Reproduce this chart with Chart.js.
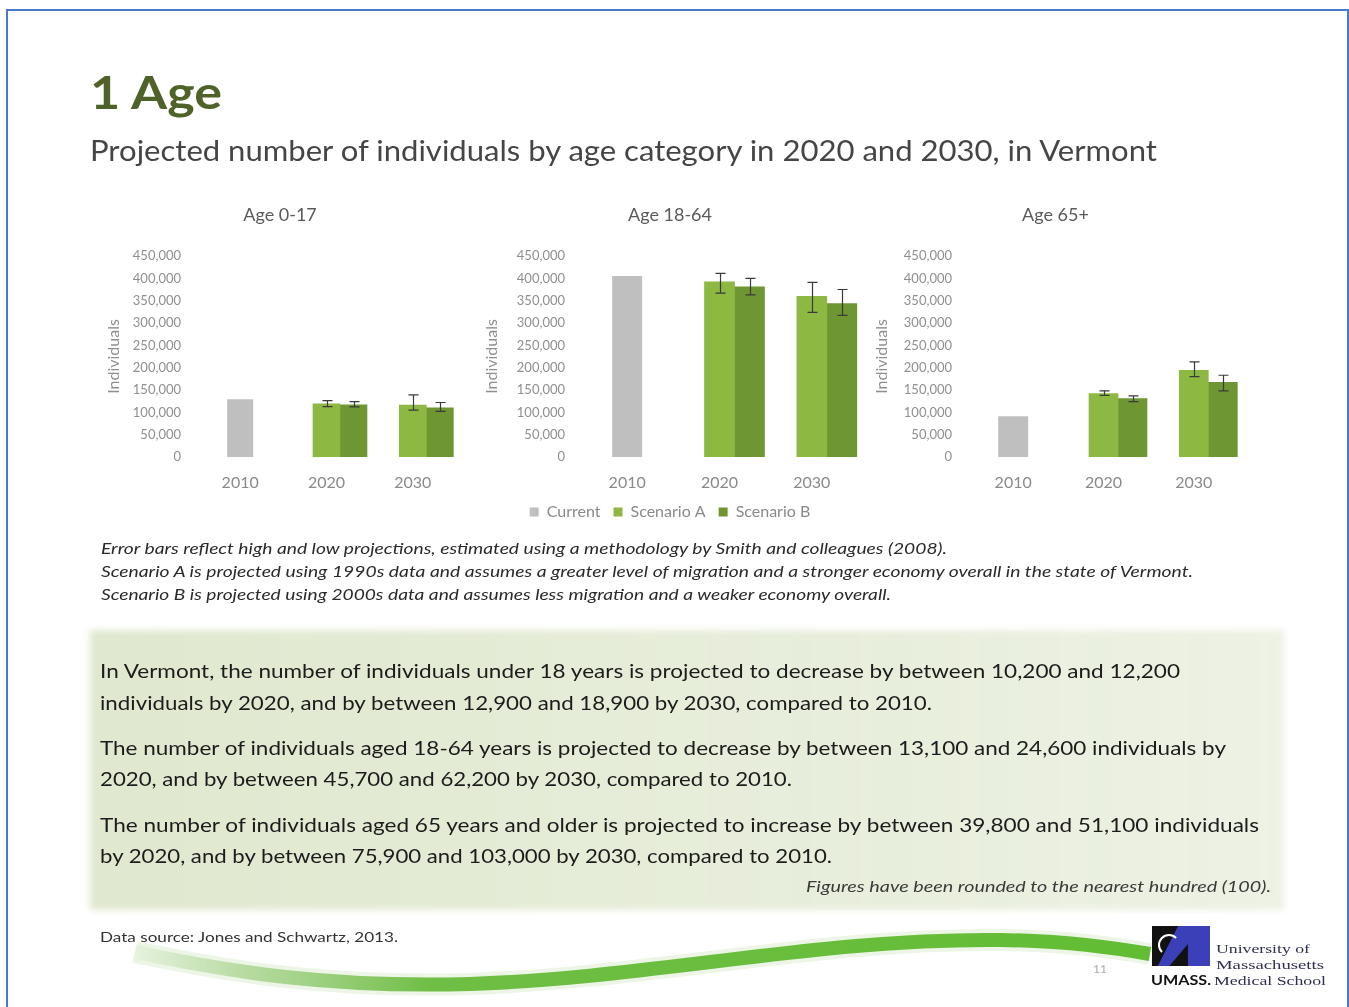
<!DOCTYPE html>
<html>
<head>
<meta charset="utf-8">
<script src="https://cdn.jsdelivr.net/npm/chart.js@4.4.0/dist/chart.umd.min.js"></script>
<style>
html,body{margin:0;padding:0;background:#fff;}
body{width:1349px;height:1007px;position:relative;overflow:hidden;font-family:Lato,"Open Sans",sans-serif;}
.frame{position:absolute;left:6px;top:9px;width:1339px;height:1030px;border:2px solid #4A78CF;}
.t{position:absolute;white-space:nowrap;line-height:1.2;transform-origin:0 50%;}
canvas{position:absolute;}
.box{position:absolute;left:90px;top:630px;width:1194px;height:280px;
 background:linear-gradient(90deg,rgba(222,231,204,0.95) 0%,rgba(229,236,215,0.95) 50%,rgba(235,240,225,0.9) 100%);
 filter:blur(3px);}
.para{color:#1c1c1c;font-size:20px;}
.cap{color:#2a2a2a;font-size:14.5px;font-style:italic;}
</style>
</head>
<body>
<div class="frame"></div>

<div class="t" data-w="132" style="left:90px;top:64px;font-size:46px;font-weight:700;color:#4F6228;">1 Age</div>
<div class="t" data-w="1067" style="left:90px;top:133px;font-size:29px;color:#454545;">Projected number of individuals by age category in 2020 and 2030, in Vermont</div>

<canvas id="c1" width="352" height="296" style="left:104px;top:195px;"></canvas>
<canvas id="c2" width="376" height="335" style="left:482px;top:195px;"></canvas>
<canvas id="c3" width="367" height="296" style="left:872px;top:195px;"></canvas>

<div class="t cap" data-w="846" style="left:101px;top:540px;">Error bars reflect high and low projections, estimated using a methodology by Smith and colleagues (2008).</div>
<div class="t cap" data-w="1092" style="left:101px;top:563px;">Scenario A is projected using 1990s data and assumes a greater level of migration and a stronger economy overall in the state of Vermont.</div>
<div class="t cap" data-w="790" style="left:101px;top:586px;">Scenario B is projected using 2000s data and assumes less migration and a weaker economy overall.</div>

<div class="box"></div>
<div class="t para" data-w="1080" style="left:100px;top:658px;">In Vermont, the number of individuals under 18 years is projected to decrease by between 10,200 and 12,200</div>
<div class="t para" data-w="832" style="left:100px;top:690px;">individuals by 2020, and by between 12,900 and 18,900 by 2030, compared to 2010.</div>
<div class="t para" data-w="1126" style="left:100px;top:735px;">The number of individuals aged 18-64 years is projected to decrease by between 13,100 and 24,600 individuals by</div>
<div class="t para" data-w="692" style="left:100px;top:766px;">2020, and by between 45,700 and 62,200 by 2030, compared to 2010.</div>
<div class="t para" data-w="1159" style="left:100px;top:812px;">The number of individuals aged 65 years and older is projected to increase by between 39,800 and 51,100 individuals</div>
<div class="t para" data-w="732" style="left:100px;top:843px;">by 2020, and by between 75,900 and 103,000 by 2030, compared to 2010.</div>
<div class="t" data-w="465" style="left:806px;top:877px;font-size:15px;font-style:italic;color:#3a3a3a;">Figures have been rounded to the nearest hundred (100).</div>

<svg width="1349" height="1007" style="position:absolute;left:0;top:0;pointer-events:none;">
 <defs>
  <linearGradient id="sw" x1="120" y1="0" x2="1150" y2="0" gradientUnits="userSpaceOnUse">
   <stop offset="0" stop-color="#8cc66a" stop-opacity="0"/>
   <stop offset="0.12" stop-color="#8cc66a" stop-opacity="0.55"/>
   <stop offset="0.3" stop-color="#6fbe45"/>
   <stop offset="1" stop-color="#62bd33"/>
  </linearGradient>
 </defs>
 <path d="M135,952 C230,972 330,988 470,984 C650,978 820,938 1000,940 C1070,941 1115,948 1150,954" fill="none" stroke="#dfeed6" stroke-width="22" opacity="0.6"/>
 <path d="M135,952 C230,972 330,988 470,984 C650,978 820,938 1000,940 C1070,941 1115,948 1150,954" fill="none" stroke="url(#sw)" stroke-width="14"/>
</svg>

<div class="t" data-w="298" style="left:100px;top:930px;font-size:13px;color:#333;">Data source: Jones and Schwartz, 2013.</div>

<div class="t" style="left:1093px;top:962px;font-size:12px;color:#aaa;">11</div>
<div style="position:absolute;left:1152px;top:926px;width:58px;height:40px;background:#111;"></div>
<div style="position:absolute;left:1152px;top:926px;width:58px;height:40px;background:#3b3fb8;clip-path:polygon(45% 0,100% 0,100% 100%,62% 100%,62% 45%,30% 100%,10% 100%);"></div>
<div style="position:absolute;left:1158px;top:934px;width:18px;height:18px;border:2px solid #fff;border-radius:50%;border-right-color:transparent;border-bottom-color:transparent;"></div>
<div class="t" data-w="60" style="left:1151px;top:973px;font-size:13px;font-weight:700;color:#111;">UMASS.</div>
<div class="t" data-w="94" style="left:1216px;top:941px;font-size:13px;font-family:'Liberation Serif',serif;color:#2e2e50;">University of</div>
<div class="t" data-w="108" style="left:1216px;top:957px;font-size:13px;font-family:'Liberation Serif',serif;color:#2e2e50;">Massachusetts</div>
<div class="t" data-w="112" style="left:1214px;top:973px;font-size:13px;font-family:'Liberation Serif',serif;color:#2e2e50;">Medical School</div>

<script>
// ---------------- data ----------------
const years = ['2010', '2020', '2030'];
const seriesNames = ['Current', 'Scenario A', 'Scenario B'];
const panelTitles = ['Age 0-17', 'Age 18-64', 'Age 65+'];
const yAxisTitle = 'Individuals';
const yMin = 0, yMax = 450000, yStep = 50000;

// Age 0-17
const u18Current = [129200, null, null];
const u18A       = [null, 119000, 116300];
const u18B       = [null, 117000, 110300];
const u18ALow    = [null, 113000, 105000];
const u18AHigh   = [null, 126000, 139000];
const u18BLow    = [null, 112000, 102000];
const u18BHigh   = [null, 124000, 122000];

// Age 18-64
const mid18Current = [405400, null, null];
const mid18A       = [null, 392300, 359700];
const mid18B       = [null, 380800, 343200];
const mid18ALow    = [null, 367000, 324000];
const mid18AHigh   = [null, 411000, 391000];
const mid18BLow    = [null, 363000, 317000];
const mid18BHigh   = [null, 400000, 375000];

// Age 65+
const o65Current = [91100, null, null];
const o65A       = [null, 142200, 194100];
const o65B       = [null, 130900, 167000];
const o65ALow    = [null, 138000, 180000];
const o65AHigh   = [null, 148000, 213000];
const o65BLow    = [null, 124000, 148000];
const o65BHigh   = [null, 137000, 183000];

// ---------------- styles ----------------
const colCurrent = '#BFBFBF';
const colA = '#8DB842';
const colB = '#6E9632';

Chart.defaults.font.family = 'Lato, "Open Sans", sans-serif';

const errorBarPlugin = {
  id: 'errbars',
  afterDatasetsDraw(chart, args, opts) {
    const ctx = chart.ctx, ys = chart.scales.y;
    ctx.save();
    ctx.strokeStyle = opts.color || '#333';
    ctx.lineWidth = opts.width || 1;
    (opts.sets || []).forEach(s => {
      const meta = chart.getDatasetMeta(s.dataset);
      meta.data.forEach((bar, i) => {
        if (s.low[i] == null || s.high[i] == null) return;
        const x = Math.round(bar.x) + 0.5;
        const yl = ys.getPixelForValue(s.low[i]);
        const yh = ys.getPixelForValue(s.high[i]);
        const c = opts.cap || 4;
        ctx.beginPath();
        ctx.moveTo(x, yl); ctx.lineTo(x, yh);
        ctx.moveTo(x - c, yh); ctx.lineTo(x + c, yh);
        ctx.moveTo(x - c, yl); ctx.lineTo(x + c, yl);
        ctx.stroke();
      });
    });
    ctx.restore();
  }
};

function buildChart(id, title, cur, a, b, aLow, aHigh, bLow, bHigh, o) {
  return new Chart(document.getElementById(id), {
    type: 'bar',
    data: {
      labels: years,
      datasets: [
        { label: seriesNames[0], data: cur, backgroundColor: colCurrent, grouped: false, maxBarThickness: o.curW },
        { label: '', data: years.map(() => null), backgroundColor: 'rgba(0,0,0,0)', barThickness: o.barW },
        { label: seriesNames[1], data: a, backgroundColor: colA, barThickness: o.barW },
        { label: seriesNames[2], data: b, backgroundColor: colB, barThickness: o.barW }
      ]
    },
    options: {
      responsive: false,
      animation: false,
      devicePixelRatio: 1,
      layout: { padding: 0 },
      scales: {
        x: {
          grid: { display: false, drawTicks: false },
          border: { display: false },
          ticks: { color: '#8a8a8a', font: { size: 16, lineHeight: 1 }, padding: 18 },
          afterFit: s => { s.height = 34; }
        },
        y: {
          min: yMin, max: yMax,
          grid: { display: false, drawTicks: false },
          border: { display: false },
          ticks: { stepSize: yStep, padding: 16, color: '#8f8f8f', font: { size: 13 },
                   callback: v => Number(v).toLocaleString('en-US') },
          title: { display: true, text: yAxisTitle, color: '#8f8f8f', font: { size: 16 }, padding: { top: 0, bottom: 0 } },
          afterFit: s => { s.width = o.axisW; }
        }
      },
      plugins: {
        title: { display: true, text: title, color: '#5a5a5a', font: { size: 18, weight: 'normal' }, padding: { top: 9, bottom: 30.4 } },
        legend: {
          display: !!o.legend, position: 'bottom',
          labels: { color: '#8a8a8a', font: { size: 16 }, boxWidth: 9, boxHeight: 9, padding: 13,
                    filter: item => item.text !== '' }
        },
        tooltip: { enabled: false },
        errbars: {
          color: '#3a3a3a', width: 1.2, cap: 5,
          sets: [ { dataset: 2, low: aLow, high: aHigh }, { dataset: 3, low: bLow, high: bHigh } ]
        }
      }
    },
    plugins: [errorBarPlugin]
  });
}

buildChart('c1', panelTitles[0], u18Current, u18A, u18B, u18ALow, u18AHigh, u18BLow, u18BHigh,
  { axisW: 93, barW: 27, curW: 26, legend: false });
buildChart('c2', panelTitles[1], mid18Current, mid18A, mid18B, mid18ALow, mid18AHigh, mid18BLow, mid18BHigh,
  { axisW: 99, barW: 30, curW: 30, legend: true });
buildChart('c3', panelTitles[2], o65Current, o65A, o65B, o65ALow, o65AHigh, o65BLow, o65BHigh,
  { axisW: 96, barW: 29, curW: 30, legend: false });

// fit long text lines to the measured widths of the reference
document.querySelectorAll('[data-w]').forEach(el => {
  const w = el.getBoundingClientRect().width;
  const target = parseFloat(el.dataset.w);
  if (w > 0) el.style.transform = 'scaleX(' + (target / w).toFixed(4) + ')';
});
</script>
</body>
</html>
